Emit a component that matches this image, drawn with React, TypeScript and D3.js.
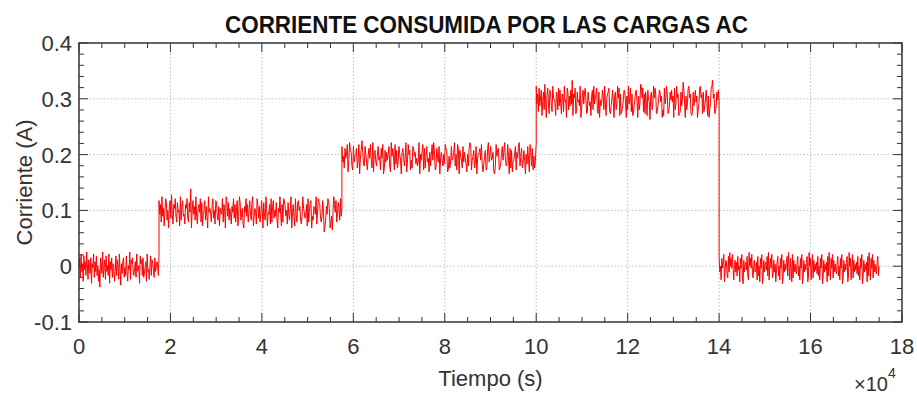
import { useRef, useEffect } from 'react';
import * as d3 from 'd3';

// axis ticks (x in units of 10^4 s)
const xTicks = [0, 2, 4, 6, 8, 10, 12, 14, 16, 18];
const yTicks = [-0.1, 0, 0.1, 0.2, 0.3, 0.4];
const yTickLabels = ['-0.1', '0', '0.1', '0.2', '0.3', '0.4'];

// load steps
const segStarts = [0, 1.75, 5.75, 10, 14];
const segEnds = [1.75, 5.75, 10, 14, 17.5];
const segLevels = [0.001, 0.1, 0.197, 0.298, 0.0];

// noise around each level, one char per sample: 'm' = 0, each letter = 0.0035 A
const segNoise = [
    'lqgsjnerkohtmfpkiqdnlsgojrhmekbqnitglpfrjmhsdokqgnlejrhpmfskcnioqglhrjemktfpnqihlogsjkmdrnphqgiloesjkfmrhpnkgqjlomhr',
    'rkpgtjnelsqhmdoriukfpnsjgqlmethorjkfpnsigqlxdmrkohtjfnplsgqekmrhojdtlnkgpsimfrqjhoenlksgpmdtrjqhnkfolsipgmrejtqhknfdolsjpgmrkhqtejnlfspiogkrmdqjhtnelkpfsgorimjqhdnltkepgsrojmfqkhntdlpjeskgqrmohfjtnlikpesgmqrdjhonktflsqpigjrmbehoksqndfjcmtplrgkqohsjn',
    'rjmgqlnsektpohfrjmnqgksdlpuoihrnjfmqlskgteopjhnrkmfqlsdgpjoknrhetmqlfsipgjrnkdoqmhltejsnpfkgrqmoilhjtdnkpsfqgmrjleohnsktpfgqmjrdlokhnisqpefmgjrklothnfsqdpmkgrjolienhqtsfkmpgjrdlnoqksheimpfgqtjnrkloedhsmpqfgjnrkotlhismdqgpejknrfolsthmqgjpkdnirlesohqfmgkt',
    'tkpgsjnrelqhumdoskfrpjgtnmleqohsjrkfpngtlmdsqhojrkwepnsfgqlmjtdhorkpsnfgqmjleorhtknpsgfqdmjlrohtkenpqsgfjmrldoqhktnsepfgjmrqldohtknsgpefjmqrldohkutnsgpfqjermlcoqhktnspfgjmrqlodheskntpfgjqmrlodshktnpefgqjmvrldohkstnpfegqjmrlodhkstnpfqgjmrleodhkstwnpfgjqmrl',
    'rjmfqlnsekpohgrjtmqlskfnpjohrkmeqlsgdpjnokrhftmqlsignpjkofrhmeqlsdgpjnokrhtfmqlsgipjnekorhmfqlsdgpjnkorhtmfqlesgpjnkiorhmfqlsdgpjnkorehtmqflsgpjnkoirhmfqlsdgpjnkoerhtmfqlsgpjnkiorhmfqlsdgpjnkorehtmqflsgpjnkoirhmfqlsdgpjnkoerhtmfqlsgpjnkiorhm',
];

type Pt = { t: number; v: number };

export default function App() {
    const ref = useRef<SVGSVGElement>(null);

    useEffect(() => {
        if (!ref.current) return;
        const svg = d3.select(ref.current);
        svg.selectAll('*').remove();

        const left = 79, right = 902, top = 43, bottom = 322;
        const x = d3.scaleLinear().domain([0, 18]).range([left, right]);
        const y = d3.scaleLinear().domain([-0.1, 0.4]).range([bottom, top]);
        const font = 'Liberation Sans, Arial, sans-serif';
        const axisColor = '#333';

        // build the samples
        const pts: Pt[] = [];
        segNoise.forEach((s, i) => {
            const n = s.length;
            for (let j = 0; j < n; j++) {
                pts.push({
                    t: segStarts[i] + (j * (segEnds[i] - segStarts[i])) / (n - 1),
                    v: segLevels[i] + (s.charCodeAt(j) - 109) * 0.0035,
                });
            }
        });

        // grid
        const grid = svg.append('g').attr('stroke', '#bdbdbd').attr('stroke-width', 1).attr('stroke-dasharray', '1.5,2');
        xTicks.slice(1, -1).forEach(t => {
            grid.append('line').attr('x1', x(t)).attr('x2', x(t)).attr('y1', top).attr('y2', bottom);
        });
        yTicks.slice(1, -1).forEach(t => {
            grid.append('line').attr('x1', left).attr('x2', right).attr('y1', y(t)).attr('y2', y(t));
        });

        // ticks inside the box
        const ticks = svg.append('g').attr('stroke', axisColor).attr('stroke-width', 1);
        d3.range(0, 18.01, 0.5).forEach(t => {
            const len = Math.abs(t % 2) < 1e-6 ? 9 : 5;
            ticks.append('line').attr('x1', x(t)).attr('x2', x(t)).attr('y1', bottom).attr('y2', bottom - len);
            ticks.append('line').attr('x1', x(t)).attr('x2', x(t)).attr('y1', top).attr('y2', top + len);
        });
        d3.range(-0.1, 0.4001, 0.02).forEach(t => {
            const major = Math.abs(Math.round(t * 10) - t * 10) < 1e-6;
            const len = major ? 9 : 5;
            ticks.append('line').attr('x1', left).attr('x2', left + len).attr('y1', y(t)).attr('y2', y(t));
            ticks.append('line').attr('x1', right).attr('x2', right - len).attr('y1', y(t)).attr('y2', y(t));
        });

        // signal
        const line = d3.line<Pt>().x(d => x(d.t)).y(d => y(d.v));
        svg.append('path')
            .datum(pts)
            .attr('fill', 'none')
            .attr('stroke', '#ff0000')
            .attr('stroke-width', 1)
            .attr('stroke-linejoin', 'round')
            .attr('d', line);

        // box
        svg.append('rect')
            .attr('x', left).attr('y', top)
            .attr('width', right - left).attr('height', bottom - top)
            .attr('fill', 'none').attr('stroke', axisColor).attr('stroke-width', 1.5);

        // tick labels
        svg.append('g').selectAll('text').data(xTicks).enter().append('text')
            .attr('x', d => x(d)).attr('y', 354)
            .attr('text-anchor', 'middle')
            .attr('font-family', font).attr('font-size', 22).attr('fill', axisColor)
            .text(d => String(d));
        svg.append('g').selectAll('text').data(yTicks).enter().append('text')
            .attr('x', 72).attr('y', d => y(d) + 8)
            .attr('text-anchor', 'end')
            .attr('font-family', font).attr('font-size', 22).attr('fill', axisColor)
            .text((d, i) => yTickLabels[i]);

        // axis titles
        svg.append('text')
            .attr('x', (left + right) / 2).attr('y', 386)
            .attr('text-anchor', 'middle')
            .attr('font-family', font).attr('font-size', 22).attr('fill', axisColor)
            .text('Tiempo (s)');
        svg.append('text')
            .attr('transform', `translate(32,${(top + bottom) / 2}) rotate(-90)`)
            .attr('text-anchor', 'middle')
            .attr('font-family', font).attr('font-size', 22).attr('fill', axisColor)
            .text('Corriente (A)');

        // exponent
        const ex = svg.append('text')
            .attr('x', 854).attr('y', 391)
            .attr('font-family', font).attr('font-size', 20).attr('fill', axisColor);
        ex.append('tspan').text('×10');
        ex.append('tspan').attr('dy', -13).attr('font-size', 14).text('4');

        // title
        svg.append('text')
            .attr('x', 486.5).attr('y', 33)
            .attr('text-anchor', 'middle')
            .attr('textLength', 523).attr('lengthAdjust', 'spacingAndGlyphs')
            .attr('font-family', font).attr('font-size', 24).attr('font-weight', 'bold').attr('fill', '#111')
            .text('CORRIENTE CONSUMIDA POR LAS CARGAS AC');
    }, []);

    return (
        <svg
            ref={ref}
            width={917}
            height={394}
            style={{ position: 'absolute', left: 0, top: 0, background: '#fff' }}
        />
    );
}
